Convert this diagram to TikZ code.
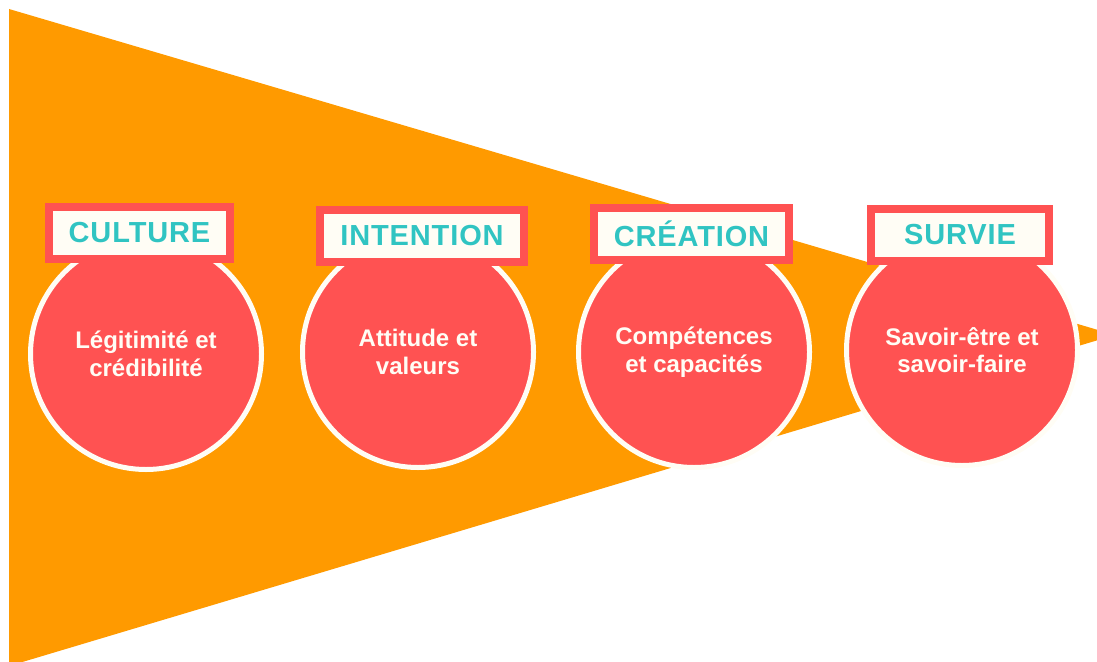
\documentclass[tikz,border=0pt]{standalone}
\usepackage{fontspec}
\setmainfont{Liberation Sans}
\newfontfamily\titlefont[LetterSpace=3.0]{Liberation Sans}
\definecolor{funnel}{HTML}{FF9A00}
\definecolor{disc}{HTML}{FF5252}
\definecolor{rim}{HTML}{FFFDF5}
\definecolor{teal}{HTML}{30C4C2}
\begin{document}
\begin{tikzpicture}[x=1pt,y=-1pt]
        % Define styles for shapes
        \tikzstyle{etape} = [circle, fill=disc, draw=rim, line width=5pt, minimum size=231pt, inner sep=0pt,
            text=rim, align=center, font=\fontsize{24}{27.5}\selectfont\bfseries]
        \tikzstyle{titre} = [rectangle, fill=rim, draw=disc, line width=8pt, minimum width=178pt, minimum height=52pt,
            inner xsep=20pt, text=teal, font=\titlefont\fontsize{29}{30}\selectfont\bfseries]

        \useasboundingbox (0,0) rectangle (1097,661);

        % Draw funnel
        \fill[funnel] (9,9) -- (1115,335) -- (9,666) -- cycle;

        % Draw shapes
        \node[etape] (culture) at (146,354) {Légitimité et\\crédibilité};
        \node[etape] (intention) at (418,352) {Attitude et\\valeurs};
        \node[etape] (creation) at (694,352) {Compétences\\et capacités};
        \node[etape] (survie) at (962,350) {Savoir-être et\\savoir-faire};

        \node[titre] (lculture) at (139.5,233) {CULTURE};
        \node[titre] (lintention) at (422,236) {INTENTION};
        \node[titre] (lcreation) at (691.5,234) {CRÉATION};
        \node[titre] (lsurvie) at (960,234.5) {SURVIE};
\end{tikzpicture}
\end{document}
